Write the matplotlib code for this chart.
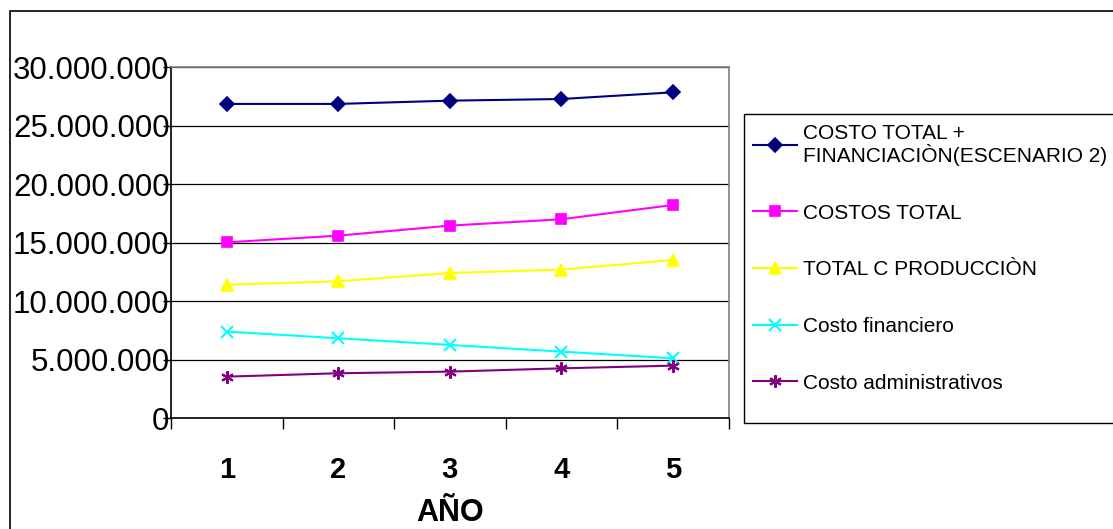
import numpy as np
import matplotlib
matplotlib.use("Agg")
import matplotlib.pyplot as plt
from matplotlib.ticker import FuncFormatter, FixedLocator
from matplotlib.patches import Rectangle

plt.rcParams['font.family'] = ['Liberation Sans', 'DejaVu Sans']

anios = ["1", "2", "3", "4", "5"]
costo_total_fin = [26870000, 26870000, 27150000, 27290000, 27860000]
costos_total = [15040000, 15610000, 16470000, 17010000, 18230000]
total_produccion = [11420000, 11710000, 12420000, 12710000, 13530000]
costo_financiero = [7410000, 6840000, 6270000, 5700000, 5130000]
costo_admin = [3560000, 3850000, 3990000, 4270000, 4500000]

etiquetas = ["COSTO TOTAL +\nFINANCIACIÒN(ESCENARIO 2)", "COSTOS TOTAL",
             "TOTAL C PRODUCCIÒN", "Costo financiero", "Costo administrativos"]

W, H = 1113, 529
fig = plt.figure(figsize=(W / 100, H / 100), dpi=100)
ax = fig.add_axes([171 / W, 1 - 418.3 / H, (728.6 - 171) / W, (418.3 - 67.3) / H])

x = np.arange(1, len(anios) + 1)
series = [
    (costo_total_fin, "#000080", "D", 7, 1.2),
    (costos_total, "#FF00FF", "s", 7, 1.2),
    (total_produccion, "#FFFF00", "^", 9, 1.2),
    (costo_financiero, "#00FFFF", "x", 8, 1.5),
    (costo_admin, "#800080", (6, 2, 0), 9, 1.5),
]
lines = []
for (vals, col, mk, ms, mew), lab in zip(series, etiquetas):
    l, = ax.plot(x, vals, color=col, marker=mk, markersize=ms, markeredgewidth=mew,
                 markeredgecolor=col, linewidth=1.5, label=lab)
    lines.append(l)

ax.set_ylim(0, 30000000)
ax.set_xlim(0.5, 5.5)
ax.yaxis.set_major_locator(FixedLocator(np.arange(0, 30000001, 5000000)))
ax.yaxis.set_major_formatter(FuncFormatter(lambda v, p: f"{int(v):,}".replace(",", ".")))
ax.grid(axis='y', color='black', linewidth=0.9)
ax.set_axisbelow(True)

ax.set_xticks(np.arange(0.5, 5.6, 1.0))
ax.set_xticklabels([])
ax.set_xticks(x, minor=True)
ax.set_xticklabels(anios, minor=True, fontsize=21, fontweight='bold')
ax.tick_params(axis='x', which='major', direction='out', length=8, width=1, color='black')
ax.tick_params(axis='x', which='minor', length=0, pad=27)
ax.tick_params(axis='y', direction='out', length=6, width=1, labelsize=22.5, pad=-5)

for s in ['top', 'right']:
    ax.spines[s].set_color('#808080')
    ax.spines[s].set_linewidth(1.2)
for s in ['left', 'bottom']:
    ax.spines[s].set_color('black')
    ax.spines[s].set_linewidth(1.2)

ax.set_xlabel("AÑO", fontsize=22, fontweight='bold', labelpad=10)

leg = fig.legend(handles=lines, loc='upper left', bbox_to_anchor=(753 / W, 1 - 124 / H),
                 fontsize=15, frameon=False, handlelength=2.1, handletextpad=0.28,
                 labelspacing=1.81, borderpad=0.0, borderaxespad=0)
for t in leg.get_texts():
    t.set_linespacing(1.05)

# legend box and outer chart border
fig.patches.append(Rectangle((744 / W, 1 - 423 / H), 0.5, (423 - 114) / H, transform=fig.transFigure,
                             fill=False, edgecolor='black', linewidth=1.0))
fig.patches.append(Rectangle((10 / W, -0.5), 2, 0.5 + 1 - 11 / H, transform=fig.transFigure,
                             fill=False, edgecolor='black', linewidth=1.2))

fig.savefig("out.png", dpi=100, facecolor='white')
